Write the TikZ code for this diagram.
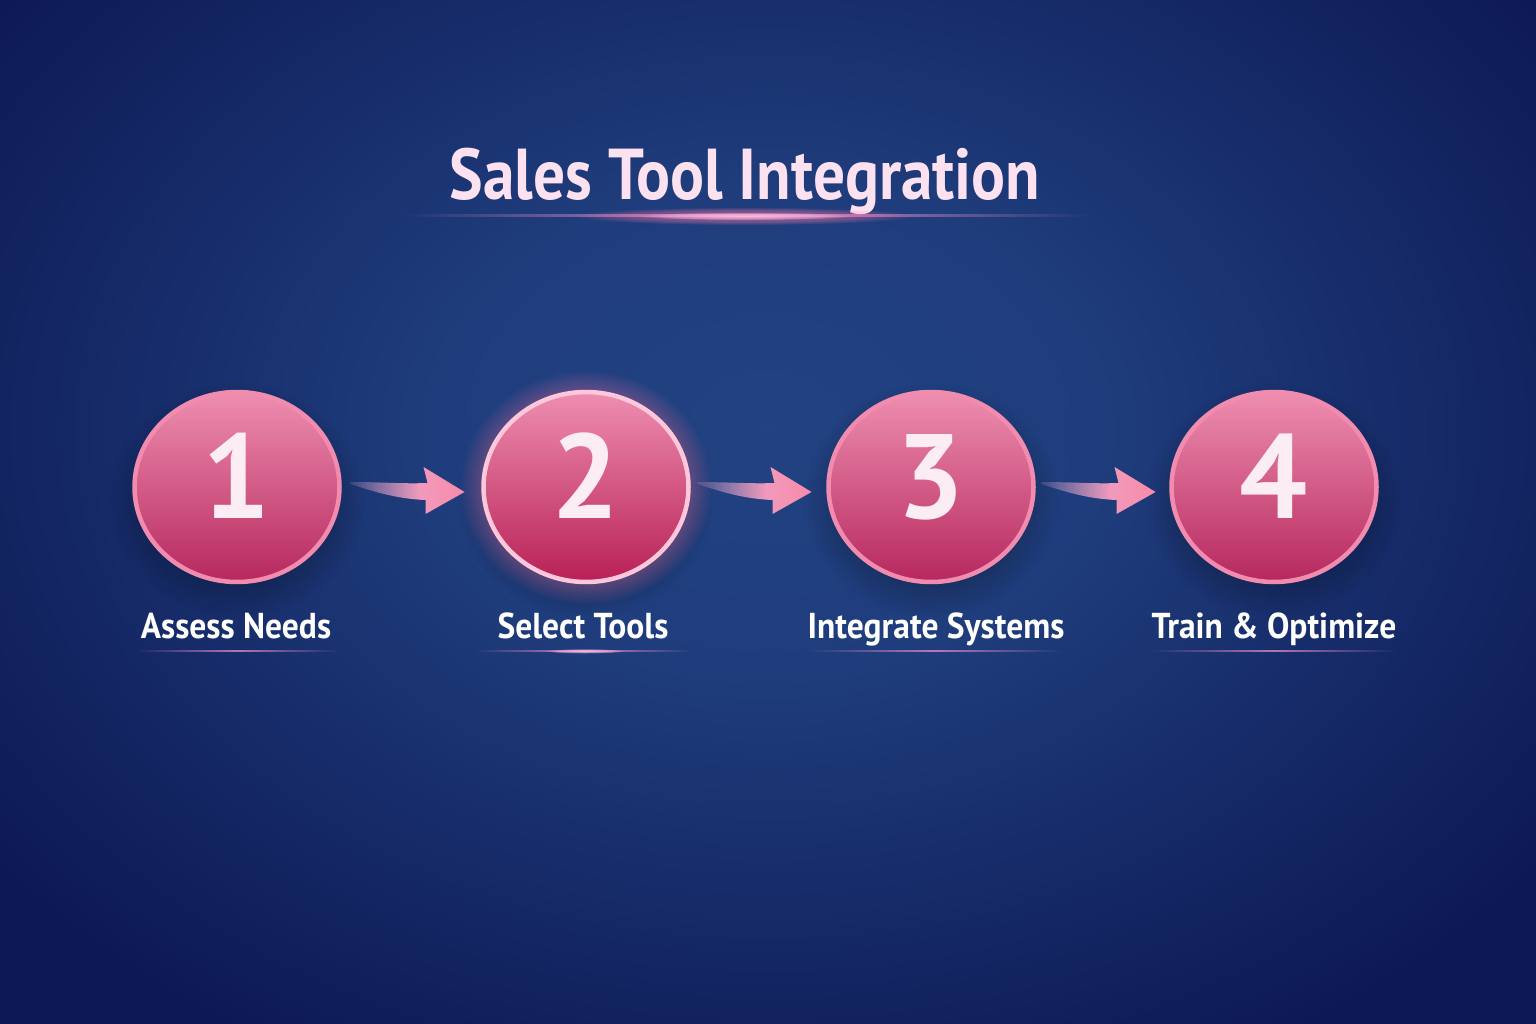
\documentclass[tikz,border=0pt]{standalone}
\usepackage{fontspec}
\setmainfont{PT Sans}
\newfontfamily\titlefont{PT Sans}[FakeStretch=0.88]
\newfontfamily\labelfont{PT Sans}[FakeStretch=0.93]
\usetikzlibrary{fadings,calc,shapes.geometric}
\definecolor{bgdark}{RGB}{13,25,84}
\definecolor{bgmid}{RGB}{34,66,130}
\definecolor{ctop}{RGB}{238,142,176}
\definecolor{cmid}{RGB}{215,82,132}
\definecolor{cbot}{RGB}{182,40,94}
\definecolor{crim}{RGB}{242,140,175}
\definecolor{crimhi}{RGB}{255,200,218}
\definecolor{glowpink}{RGB}{255,120,170}
\definecolor{digitcol}{RGB}{252,236,244}
\definecolor{titlecol}{RGB}{252,226,240}
\definecolor{arrowhead}{RGB}{248,138,170}
\definecolor{arrowtail}{RGB}{232,178,215}
\definecolor{lineglow}{RGB}{235,140,205}
\definecolor{centerglow}{RGB}{255,190,225}
\pgfdeclareradialshading{glowshade}{\pgfpointorigin}{color(0bp)=(white); color(17bp)=(white!55!black); color(25bp)=(black); color(50bp)=(black)}
\pgfdeclarefading{glowfade}{\pgfuseshading{glowshade}}
\pgfdeclareradialshading{bgshade}{\pgfpointorigin}{color(0bp)=(white); color(8bp)=(white!90!black); color(25bp)=(black); color(50bp)=(black)}
\pgfdeclarefading{bgfade}{\pgfuseshading{bgshade}}
\pgfdeclareradialshading{softshade}{\pgfpointorigin}{color(0bp)=(white); color(15bp)=(white!80!black); color(25bp)=(black); color(50bp)=(black)}
\pgfdeclarefading{softfade}{\pgfuseshading{softshade}}
\pgfdeclarehorizontalshading{lrshade}{100bp}{color(0bp)=(black); color(25bp)=(black); color(50bp)=(white); color(75bp)=(black); color(100bp)=(black)}
\pgfdeclarefading{lrfade}{\pgfuseshading{lrshade}}
\pgfdeclarehorizontalshading{tailshade}{100bp}{color(0bp)=(black!85!white); color(25bp)=(black!85!white); color(55bp)=(white); color(100bp)=(white)}
\pgfdeclarefading{tailfade}{\pgfuseshading{tailshade}}
\tikzset{
  stepcircle/.style={ellipse, minimum width=205pt, minimum height=190pt, inner sep=0pt,
    top color=ctop, middle color=cmid, bottom color=cbot, draw=crim, line width=4.5pt},
  digit/.style={anchor=base, text=digitcol, font=\fontsize{120}{120}\selectfont\bfseries, inner sep=0pt},
  steplabel/.style={anchor=base, text=white, font=\labelfont\fontsize{36}{36}\selectfont\bfseries, inner sep=0pt},
  titletext/.style={anchor=base, text=titlecol, font=\titlefont\fontsize{72}{72}\selectfont\bfseries, inner sep=0pt},
}
\newcommand{\flowarrow}[2]{%
  \begin{scope}[shift={($(#1.east)!0.5!(#2.west)$)}]
    \shade[left color=arrowtail, right color=arrowhead, path fading=tailfade]
      (-61,5) .. controls (-30,5) and (-8,3) .. (16,4) -- (12,20) -- (53,-5) -- (14,-27) -- (14,-13)
      .. controls (-15,-12) and (-40,-4) .. (-61,3) -- cycle;
  \end{scope}}
\begin{document}
\begin{tikzpicture}[x=1pt,y=1pt]
\useasboundingbox (0,0) rectangle (1536,-1024);
% background
\fill[bgdark] (0,0) rectangle (1536,-1024);
\fill[bgmid, path fading=bgfade] (768,-430) ellipse (980 and 720);
% title
\node[titletext] (title) at (745,-200) {Sales Tool Integration};
\fill[lineglow, opacity=.9, path fading=lrfade] (405,-214.5) rectangle (1090,-217.5);
\fill[glowpink, opacity=.6, path fading=glowfade] (745,-216) ellipse (170 and 9);
\fill[centerglow, opacity=.9, path fading=glowfade] (745,-216) ellipse (110 and 4);
% shadows
\foreach \cx in {237,586,931,1274}{
  \fill[black, opacity=.35, path fading=softfade] (\cx,-500) ellipse (128 and 118);
}
% glow for step 2
\fill[glowpink, opacity=.95, path fading=glowfade] (586,-487) ellipse (126 and 117);
% circles
\node[stepcircle] (c1) at (237,-487) {};
\node[stepcircle, draw=crimhi, middle color={rgb,255:red,218;green,70;blue,120}, bottom color={rgb,255:red,184;green,32;blue,86}] (c2) at (586,-487) {};
\node[stepcircle] (c3) at (931,-487) {};
\node[stepcircle] (c4) at (1274,-487) {};
% digits
\node[digit] (d1) at ($(c1.center)+(0,-31)$) {1};
\node[digit] (d2) at ($(c2.center)+(0,-31)$) {2};
\node[digit] (d3) at ($(c3.center)+(0,-31)$) {3};
\node[digit] (d4) at ($(c4.center)+(0,-31)$) {4};
% arrows
\flowarrow{c1}{c2}
\flowarrow{c2}{c3}
\flowarrow{c3}{c4}
% labels
\node[steplabel] (l1) at (236,-638) {Assess Needs};
\node[steplabel] (l2) at (583,-638) {Select Tools};
\node[steplabel] (l3) at (936,-638) {Integrate Systems};
\node[steplabel] (l4) at (1274,-638) {Train \& Optimize};
% label underlines
\fill[lineglow, opacity=.75, path fading=lrfade] (135,-650) rectangle (340,-652);
\fill[lineglow, opacity=.85, path fading=lrfade] (475,-650) rectangle (692,-652);
\fill[centerglow, opacity=.9, path fading=glowfade] (585,-651) ellipse (40 and 2.5);
\fill[lineglow, opacity=.75, path fading=lrfade] (808,-650) rectangle (1062,-652);
\fill[lineglow, opacity=.75, path fading=lrfade] (1150,-650) rectangle (1396,-652);
\end{tikzpicture}
\end{document}
